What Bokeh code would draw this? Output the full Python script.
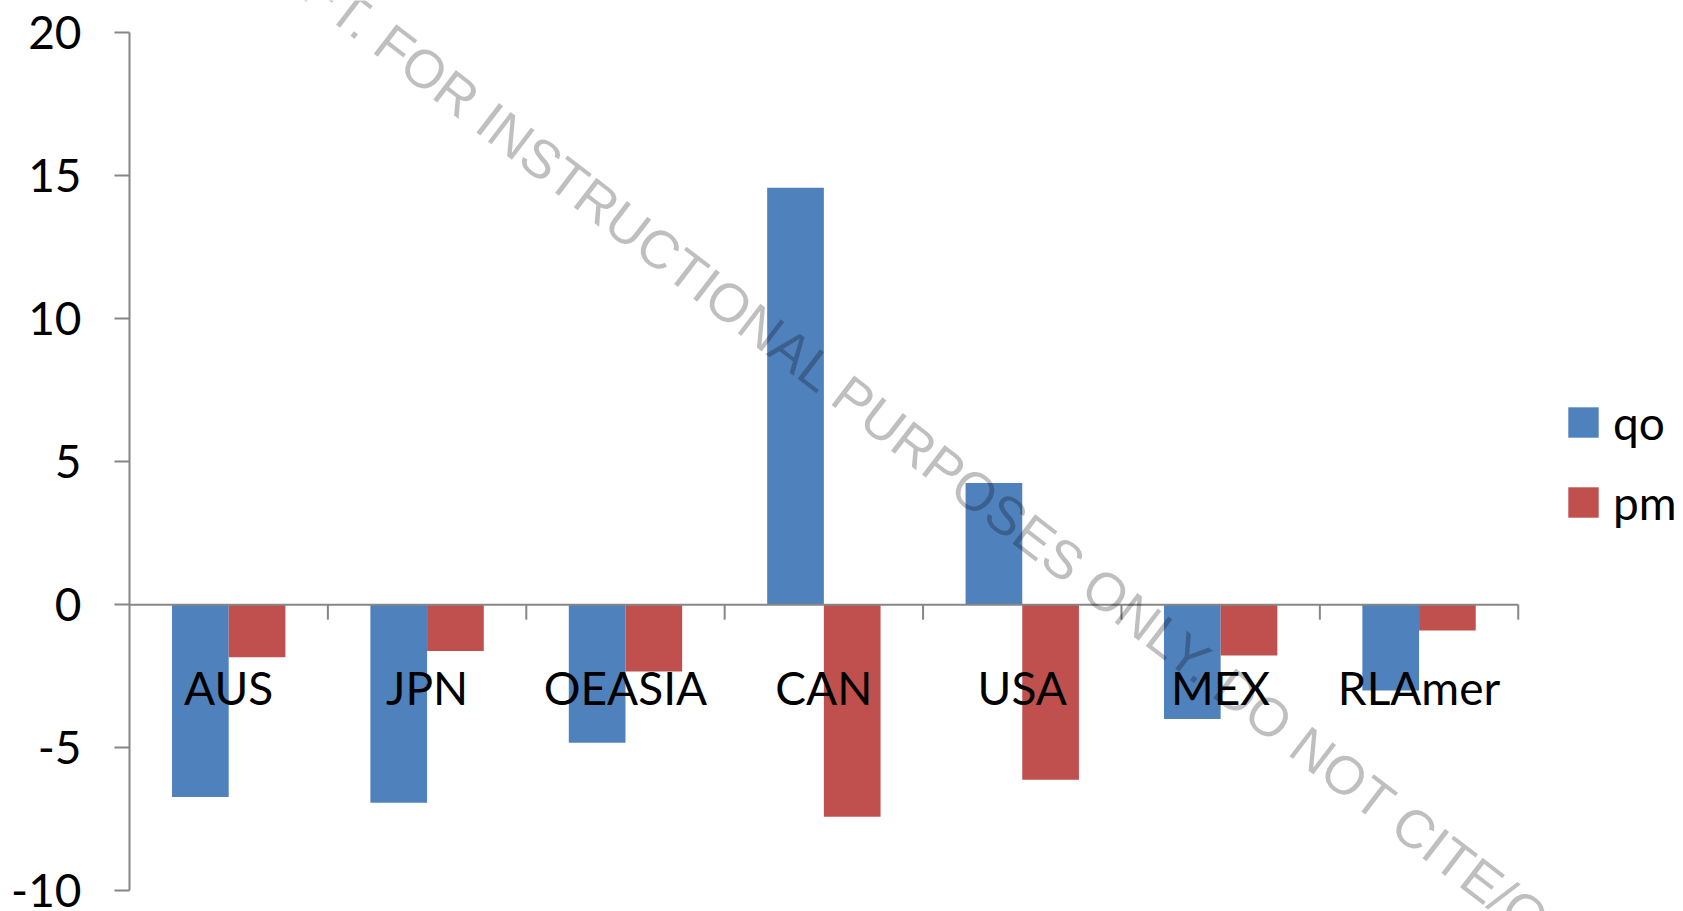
import math

from bokeh.plotting import figure
from bokeh.models import (ColumnDataSource, FixedTicker, Label, Legend,
                          LegendItem, Range1d)
from bokeh.core.properties import value
from bokeh.embed import file_html
from bokeh.resources import INLINE

# --- data -----------------------------------------------------------------
categories = ["AUS", "JPN", "OEASIA", "CAN", "USA", "MEX", "RLAmer"]
qo = [-6.73, -6.93, -4.83, 14.58, 4.26, -4.0, -3.0]
pm = [-1.84, -1.62, -2.34, -7.42, -6.12, -1.78, -0.9]
series_names = ["qo", "pm"]
y_ticks = [-10, -5, 0, 5, 10, 15, 20]
y_tick_labels = ["-10", "-5", "0", "5", "10", "15", "20"]
watermark_text = "DRAFT. FOR INSTRUCTIONAL PURPOSES ONLY. DO NOT CITE/QUOTE"

# --- styling --------------------------------------------------------------
W, H = 1683, 911
FRAME_LEFT = 129
BLUE = "#4F81BD"
RED = "#C0504D"
AXIS_GRAY = "#868686"
FONT = "Lato"
FONT_SIZE = "46px"

n = len(categories)
bar_w = 1.0 / (2 + 1.5)          # two bars per group, 150% gap
centers = [i + 0.5 for i in range(n)]

src = ColumnDataSource(dict(
    cat=categories,
    xc=centers,
    x_qo=[c - bar_w / 2 for c in centers],
    x_pm=[c + bar_w / 2 for c in centers],
    qo=qo,
    pm=pm,
))

p = figure(
    width=W, height=H,
    x_range=Range1d(0, 7.833),
    y_range=Range1d(-10.73, 21.13),
    x_axis_location=None,
    toolbar_location=None,
    output_backend="svg",
    min_border_left=FRAME_LEFT, min_border_right=0,
    min_border_top=0, min_border_bottom=0,
)
p.outline_line_color = None
p.grid.visible = False
p.background_fill_color = "white"
p.border_fill_color = "white"

r_qo = p.vbar(x="x_qo", top="qo", bottom=0, width=bar_w, source=src,
              fill_color=BLUE, line_color=None)
r_pm = p.vbar(x="x_pm", top="pm", bottom=0, width=bar_w, source=src,
              fill_color=RED, line_color=None)

# category axis drawn along the zero line, ticks between the groups
p.segment(x0=0, y0=0, x1=n, y1=0, line_color=AXIS_GRAY, line_width=2)
p.ray(x=list(range(1, n + 1)), y=[0] * n, length=15, length_units="screen",
      angle=-math.pi / 2, line_color=AXIS_GRAY, line_width=2)
p.text(x="xc", y=0, text="cat", source=src, text_font=value(FONT),
       text_font_size=FONT_SIZE, text_align="center",
       text_baseline="alphabetic", y_offset=83, text_color="black")

# value axis
ax = p.yaxis[0]
ax.ticker = FixedTicker(ticks=y_ticks)
ax.major_label_overrides = {t: s for t, s in zip(y_ticks, y_tick_labels)}
ax.bounds = (-10, 20)
ax.axis_line_color = AXIS_GRAY
ax.axis_line_width = 2
ax.major_tick_line_color = AXIS_GRAY
ax.major_tick_line_width = 2
ax.major_tick_in = 0
ax.major_tick_out = 15
ax.minor_tick_line_color = None
ax.major_label_standoff = 33
ax.major_label_text_font = FONT
ax.major_label_text_font_size = FONT_SIZE
ax.major_label_text_color = "black"

legend = Legend(
    items=[LegendItem(label=series_names[0], renderers=[r_qo]),
           LegendItem(label=series_names[1], renderers=[r_pm])],
    location=(1435, 381),
    glyph_width=38, glyph_height=38,
    label_height=56, spacing=24, label_standoff=11,
    padding=0, margin=0,
    border_line_color=None, background_fill_alpha=0,
    label_text_font=FONT, label_text_font_size=FONT_SIZE,
    label_text_color="black",
)
p.add_layout(legend)

p.add_layout(Label(
    x=0.456, y=24.235, text=watermark_text,
    angle=-37.5, angle_units="deg",
    text_font="Liberation Sans", text_font_size="54px",
    text_color="black", text_alpha=0.25,
    text_align="left", text_baseline="alphabetic",
))

open("out.html", "w").write(file_html(p, INLINE))
